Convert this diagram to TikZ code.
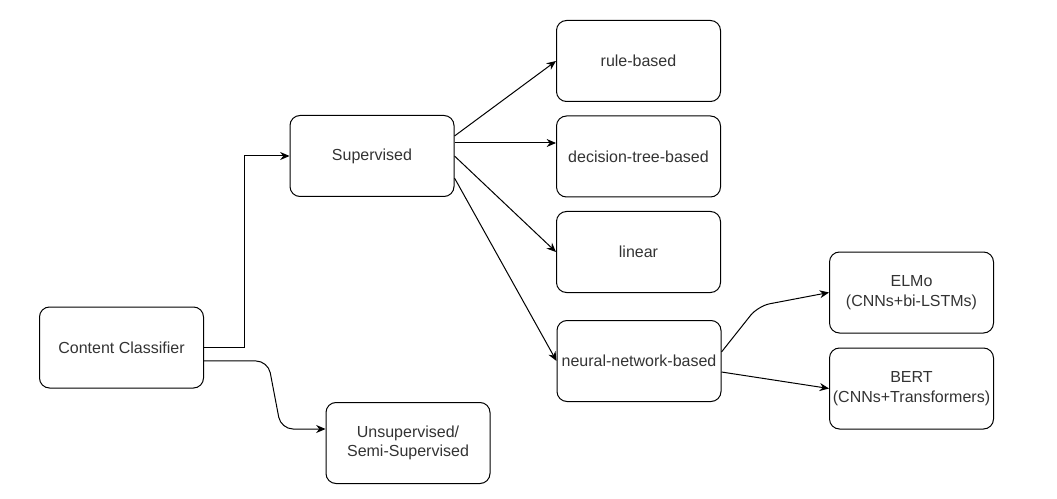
\documentclass[tikz,border=0pt]{standalone}
\usepackage{fontspec}
\setmainfont{Liberation Sans}
\usetikzlibrary{positioning,arrows.meta}

\begin{document}
\begin{tikzpicture}[
  x=0.75pt,y=-0.75pt,
  box/.style={draw,line width=0.75pt,rounded corners=7.5pt,minimum width=123pt,minimum height=60.75pt,inner sep=1pt,align=center,text=black!80,font=\fontsize{12}{14.5}\selectfont},
  arr/.style={-{Stealth[length=7pt,width=6pt]},line width=0.75pt},
  bendarr/.style={arr,rounded corners=9pt}]
\useasboundingbox (0,0) rectangle (1057,499);
\node[box] (cc)    at (121.5,347.5) {Content Classifier};
\node[box] (sup)   at (372,156)     {Supervised};
\node[box] (unsup) at (408,443)     {Unsupervised/\\Semi-Supervised};
\node[box] (rule)  at (638.5,61)    {rule-based};
\node[box] (dec)   at (638.5,156.5) {decision-tree-based};
\node[box] (lin)   at (638.5,252)   {linear};
\node[box] (nn)    at (639,361)     {neural-network-based};
\node[box] (elmo)  at (911.5,292.5) {ELMo\\(CNNs+bi-LSTMs)};
\node[box] (bert)  at (911.5,388.5) {BERT\\(CNNs+Transformers)};
% classifier branches
\draw[arr] (cc.east) -- ++(30pt,0) |- (sup.west);
\coordinate (u1) at (268,361);
\coordinate (u2) at (281,429);
\draw[bendarr] ([yshift=-10pt]cc.east) -- (u1) -- (u2) -- ([yshift=10.5pt]unsup.west);
% supervised families
\coordinate (s2) at ([yshift=9.75pt]sup.east);
\draw[arr] ([yshift=15pt]sup.east) -- (rule.west);
\draw[arr] (s2) -- (s2 -| dec.west);
\draw[arr] (sup.east) -- (lin.west);
\draw[arr] ([yshift=-16.5pt]sup.east) -- (nn.west);
% neural models
\coordinate (e1) at (758,306);
\draw[bendarr] ([yshift=6.75pt]nn.east) -- (e1) -- (elmo.west);
\draw[arr] ([yshift=-8.25pt]nn.east) -- (bert.west);
\end{tikzpicture}
\end{document}
